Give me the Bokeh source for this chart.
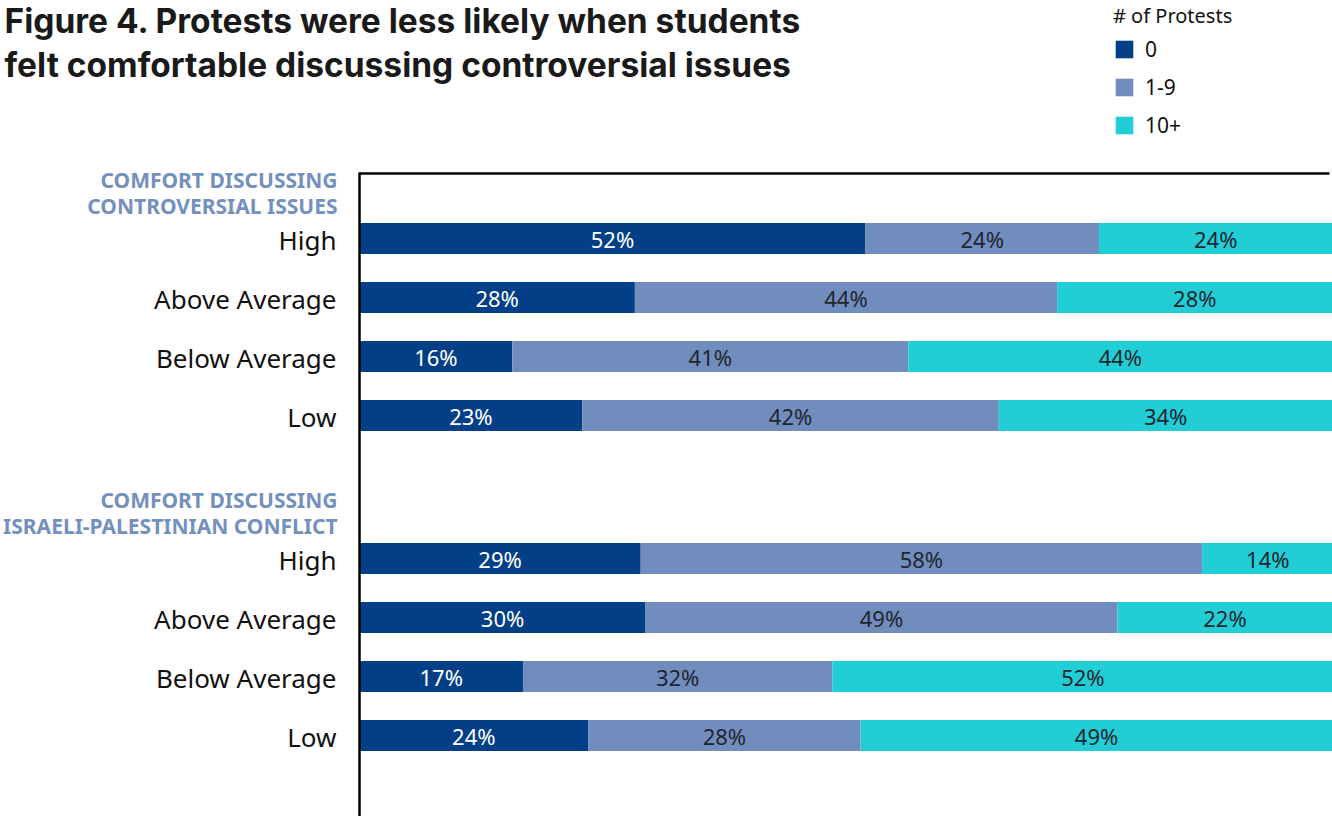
from bokeh.plotting import figure
from bokeh.models import ColumnDataSource, Range1d, Legend, LegendItem
from bokeh.embed import file_html
from bokeh.resources import INLINE
from bokeh.core.properties import value

# ---------------- data ----------------
title_lines = ["Figure 4. Protests were less likely when students",
               "felt comfortable discussing controversial issues"]
group_titles = ["COMFORT DISCUSSING\nCONTROVERSIAL ISSUES",
                "COMFORT DISCUSSING\nISRAELI-PALESTINIAN CONFLICT"]
levels = ["High", "Above Average", "Below Average", "Low"]
series_names = ["0", "1-9", "10+"]
series_colors = ["#023f87", "#718dbd", "#22ced6"]
legend_title = "# of Protests"

# shares (%); group 1 rows, then group 2 rows
share_0 = [52.0, 28.3, 15.7, 22.9, 28.9, 29.4, 16.8, 23.5]
share_1_9 = [24.0, 43.4, 40.7, 42.8, 57.7, 48.5, 31.8, 28.0]
share_10 = [24.0, 28.3, 43.6, 34.3, 13.5, 22.1, 51.5, 48.5]
# printed percentages
label_0 = [52, 28, 16, 23, 29, 30, 17, 24]
label_1_9 = [24, 44, 41, 42, 58, 49, 32, 28]
label_10 = [24, 28, 44, 34, 14, 22, 52, 49]

# ---------------- layout (pixels) ----------------
W, H = 1332, 816
AXIS_X, AXIS_TOP = 359, 172          # where the value axis starts
RULE_END = 1329                      # end of the top rule
PX_PER_PCT = 9.73
ROW0, ROW_GAP, GROUP_GAP, BAR_H = 238, 59, 320, 31
HEADER_LINE_OFFSETS = [59, 33]       # header lines above the first row
FONT = "Noto Sans"
DARK = "#1f2630"

ys = [ROW0 + g * GROUP_GAP + i * ROW_GAP for g in range(len(group_titles)) for i in range(len(levels))]
names = [lv for _ in group_titles for lv in levels]
hdr_text, hdr_y = [], []
for g, gt in enumerate(group_titles):
    for line, off in zip(gt.split("\n"), HEADER_LINE_OFFSETS):
        hdr_text.append(line)
        hdr_y.append(ys[g * len(levels)] - off)

p = figure(width=W, height=H,
           x_range=Range1d(-AXIS_X / PX_PER_PCT, (W - AXIS_X) / PX_PER_PCT),
           y_range=Range1d(H, 0),
           output_backend="svg", toolbar_location=None,
           x_axis_location=None, y_axis_location=None,
           min_border_left=0, min_border_top=0, min_border_right=0, min_border_bottom=0)
p.outline_line_color = None
p.grid.visible = False
p.background_fill_color = "white"
p.border_fill_color = "white"

src = ColumnDataSource(dict(y=ys, s0=share_0, s1=share_1_9, s2=share_10))
renderers = p.hbar_stack(["s0", "s1", "s2"], y="y", height=BAR_H,
                         fill_color=series_colors, line_color=None, source=src)

# value-axis line and top rule
p.segment(x0=[0], y0=[AXIS_TOP], x1=[0], y1=[H], line_color="black", line_width=2.5)
p.segment(x0=[0], y0=[AXIS_TOP + 1], x1=[(RULE_END - AXIS_X) / PX_PER_PCT], y1=[AXIS_TOP + 1],
          line_color="black", line_width=2.5)

# value labels centred in each segment
c0 = [a / 2 for a in share_0]
c1 = [a + b / 2 for a, b in zip(share_0, share_1_9)]
c2 = [a + b + c / 2 for a, b, c in zip(share_0, share_1_9, share_10)]
for cx, labs, col in [(c0, label_0, "white"), (c1, label_1_9, DARK), (c2, label_10, DARK)]:
    p.text(x=cx, y=ys, text=[f"{v}%" for v in labs],
           text_font=value(FONT), text_font_size=value("22px"),
           text_align="center", text_baseline="middle", text_color=col)

# category labels
p.text(x=[0] * len(ys), y=ys, text=names, x_offset=-23, y_offset=1,
       text_font=value(FONT), text_font_size=value("26px"),
       text_align="right", text_baseline="middle", text_color="#111111")

# group headers
p.text(x=[0] * len(hdr_y), y=hdr_y, text=hdr_text, x_offset=-22,
       text_font=value(FONT), text_font_style="bold", text_font_size=value("21px"),
       text_align="right", text_baseline="middle", text_color="#7390bf")

# title
p.text(x=[0, 0], y=[20, 64], text=title_lines, x_offset=-(AXIS_X - 4),
       text_font=value("Inter"), text_font_style="bold", text_font_size=value("33.5px"),
       text_align="left", text_baseline="middle", text_color="#1a1a1a")

# legend
legend = Legend(items=[LegendItem(label=n, renderers=[r]) for n, r in zip(series_names, renderers)],
                location=(1113, H - 139), title=legend_title,
                title_text_font=FONT, title_text_font_size="20px", title_text_font_style="normal",
                title_text_color="#111111", title_standoff=6,
                label_text_font=FONT, label_text_font_size="21px", label_text_color="#111111",
                glyph_width=22, glyph_height=22, label_height=22, label_standoff=10,
                spacing=10, padding=0, margin=0,
                border_line_color=None, background_fill_alpha=0)
p.add_layout(legend)

open("out.html", "w").write(file_html(p, INLINE))
